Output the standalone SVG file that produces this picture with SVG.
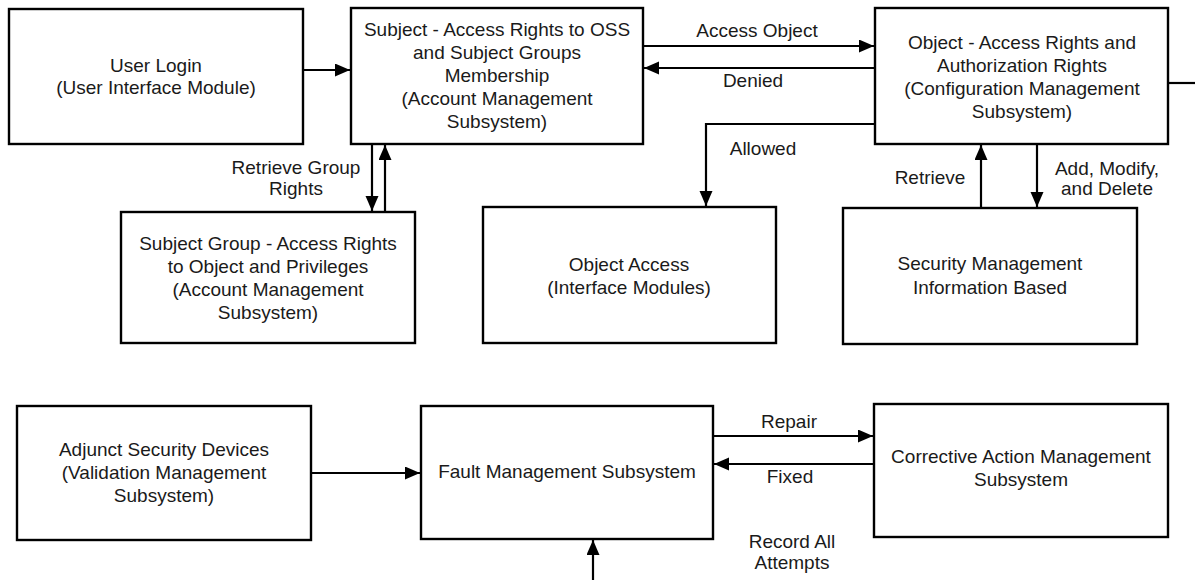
<svg xmlns="http://www.w3.org/2000/svg" width="1195" height="580" viewBox="0 0 1195 580">
  <style>
    .box { fill: #ffffff; stroke: #000000; stroke-width: 2.4; }
    .lbl { font-family: "Liberation Sans", Arial, sans-serif; font-size: 19px; fill: #1a1a1a; text-anchor: middle; }
    .wire { fill: none; stroke: #000000; stroke-width: 2.2; }
  </style>
  <defs>
    <marker id="arrow" markerUnits="userSpaceOnUse" markerWidth="16" markerHeight="14" refX="15" refY="6.5" orient="auto">
      <path d="M0,0 L15,6.5 L0,13 Z" fill="#000000"/>
    </marker>
  </defs>
  <rect width="1195" height="580" fill="#ffffff"/>

  <!-- connectors -->
  <g id="connectors">
    <path class="wire" d="M303,70 H350" marker-end="url(#arrow)"/>
    <path class="wire" d="M643,46 H874" marker-end="url(#arrow)"/>
    <path class="wire" d="M875,68 H644" marker-end="url(#arrow)"/>
    <path class="wire" d="M875,124 H706 V206" marker-end="url(#arrow)"/>
    <path class="wire" d="M372,144 V211" marker-end="url(#arrow)"/>
    <path class="wire" d="M385,212 V145" marker-end="url(#arrow)"/>
    <path class="wire" d="M981,208 V145" marker-end="url(#arrow)"/>
    <path class="wire" d="M1037,144 V207" marker-end="url(#arrow)"/>
    <path class="wire" d="M1168,83 H1195"/>
    <path class="wire" d="M311,473 H420" marker-end="url(#arrow)"/>
    <path class="wire" d="M713,436 H873" marker-end="url(#arrow)"/>
    <path class="wire" d="M874,464 H714" marker-end="url(#arrow)"/>
    <path class="wire" d="M593,580 V540" marker-end="url(#arrow)"/>

    <text class="lbl" x="757" y="37">Access Object</text>
    <text class="lbl" x="753" y="87">Denied</text>
    <text class="lbl" x="763" y="155">Allowed</text>
    <text class="lbl" x="296" y="174">Retrieve Group</text>
    <text class="lbl" x="296" y="195">Rights</text>
    <text class="lbl" x="930" y="184">Retrieve</text>
    <text class="lbl" x="1107" y="175">Add, Modify,</text>
    <text class="lbl" x="1107" y="195">and Delete</text>
    <text class="lbl" x="789" y="428">Repair</text>
    <text class="lbl" x="790" y="483">Fixed</text>
    <text class="lbl" x="792" y="548">Record All</text>
    <text class="lbl" x="792" y="569">Attempts</text>
  </g>

  <g id="user-login">
    <rect class="box" x="9" y="9" width="294" height="135"/>
    <text class="lbl" x="156" y="72">User Login</text>
    <text class="lbl" x="156" y="94">(User Interface Module)</text>
  </g>

  <g id="subject">
    <rect class="box" x="351" y="8" width="292" height="136"/>
    <text class="lbl" x="497" y="36">Subject - Access Rights to OSS</text>
    <text class="lbl" x="497" y="59">and Subject Groups</text>
    <text class="lbl" x="497" y="82">Membership</text>
    <text class="lbl" x="497" y="105">(Account Management</text>
    <text class="lbl" x="497" y="128">Subsystem)</text>
  </g>

  <g id="object">
    <rect class="box" x="875" y="8" width="293" height="136"/>
    <text class="lbl" x="1022" y="49">Object - Access Rights and</text>
    <text class="lbl" x="1022" y="72">Authorization Rights</text>
    <text class="lbl" x="1022" y="95">(Configuration Management</text>
    <text class="lbl" x="1022" y="118">Subsystem)</text>
  </g>

  <g id="subject-group">
    <rect class="box" x="121" y="212" width="294" height="131"/>
    <text class="lbl" x="268" y="250">Subject Group - Access Rights</text>
    <text class="lbl" x="268" y="273">to Object and Privileges</text>
    <text class="lbl" x="268" y="296">(Account Management</text>
    <text class="lbl" x="268" y="319">Subsystem)</text>
  </g>

  <g id="object-access">
    <rect class="box" x="483" y="207" width="293" height="136"/>
    <text class="lbl" x="629" y="271">Object Access</text>
    <text class="lbl" x="629" y="294">(Interface Modules)</text>
  </g>

  <g id="security-mib">
    <rect class="box" x="843" y="208" width="294" height="136"/>
    <text class="lbl" x="990" y="270">Security Management</text>
    <text class="lbl" x="990" y="294">Information Based</text>
  </g>

  <g id="adjunct">
    <rect class="box" x="17" y="406" width="294" height="134"/>
    <text class="lbl" x="164" y="456">Adjunct Security Devices</text>
    <text class="lbl" x="164" y="479">(Validation Management</text>
    <text class="lbl" x="164" y="502">Subsystem)</text>
  </g>

  <g id="fault">
    <rect class="box" x="421" y="406" width="292" height="133"/>
    <text class="lbl" x="567" y="478">Fault Management Subsystem</text>
  </g>

  <g id="corrective">
    <rect class="box" x="874" y="404" width="294" height="133"/>
    <text class="lbl" x="1021" y="463">Corrective Action Management</text>
    <text class="lbl" x="1021" y="486">Subsystem</text>
  </g>
</svg>
